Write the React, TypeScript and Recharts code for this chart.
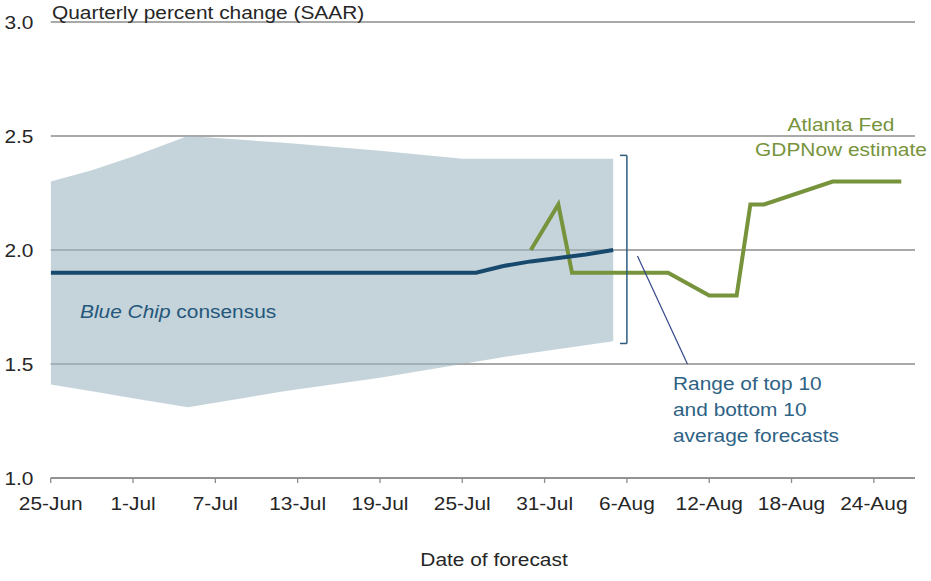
import React from 'react';
import {
  ComposedChart,
  Area,
  Line,
  XAxis,
  YAxis,
  CartesianGrid,
  ReferenceLine,
} from 'recharts';

// x values are days counted from 25-Jun
const tickDays = [0, 6, 12, 18, 24, 30, 36, 42, 48, 54, 60];
const tickLabels = ['25-Jun', '1-Jul', '7-Jul', '13-Jul', '19-Jul', '25-Jul', '31-Jul', '6-Aug', '12-Aug', '18-Aug', '24-Aug'];
const yTicks = [1.0, 1.5, 2.0, 2.5, 3.0];

// range of top 10 / bottom 10 average forecasts
const bandDays = [0, 3, 6, 10, 17, 24, 30, 34, 41];
const bandHigh = [2.3, 2.35, 2.41, 2.5, 2.47, 2.435, 2.4, 2.4, 2.4];
const bandLow = [1.41, 1.38, 1.35, 1.31, 1.38, 1.44, 1.5, 1.54, 1.6];

// Blue Chip consensus
const blueChipDays = [0, 31, 33, 35, 37, 39, 41];
const blueChipValues = [1.9, 1.9, 1.93, 1.95, 1.965, 1.98, 2.0];

// Atlanta Fed GDPNow
const gdpNowDays = [35, 37, 38, 45, 48, 50, 51, 52, 57, 62];
const gdpNowValues = [2.0, 2.2, 1.9, 1.9, 1.8, 1.8, 2.2, 2.2, 2.3, 2.3];

const bandData = bandDays.map((day, i) => ({ day, range: [bandLow[i], bandHigh[i]] }));
const blueChipData = blueChipDays.map((day, i) => ({ day, value: blueChipValues[i] }));
const gdpNowData = gdpNowDays.map((day, i) => ({ day, value: gdpNowValues[i] }));

const FONT = '"Liberation Sans", Arial, sans-serif';
const FS = 18.5;
const SX = 1.13; // source image is a little wide
const GRID = '#8c8c8c';
const TEXT = '#262626';

const XTick = (props: any) => {
  const { x, payload } = props;
  const label = tickLabels[tickDays.indexOf(payload.value)];
  return (
    <text
      transform={`translate(${x},510) scale(${SX},1)`}
      textAnchor="middle"
      fontSize={FS}
      fontFamily={FONT}
      fill={TEXT}
    >
      {label}
    </text>
  );
};

const YTick = (props: any) => {
  const { y, payload } = props;
  return (
    <text
      transform={`translate(33.5,${y + 7}) scale(${SX},1)`}
      textAnchor="end"
      fontSize={FS}
      fontFamily={FONT}
      fill={TEXT}
    >
      {Number(payload.value).toFixed(1)}
    </text>
  );
};

const Txt = ({ x, y, fill = TEXT, anchor = 'start', children }: any) => (
  <text
    transform={`translate(${x},${y}) scale(${SX},1)`}
    textAnchor={anchor}
    fontSize={FS}
    fontFamily={FONT}
    fill={fill}
  >
    {children}
  </text>
);

export default function App() {
  return (
    <div style={{ position: 'absolute', left: 0, top: 0, width: 931, height: 581, background: '#fff' }}>
      <ComposedChart
        width={931}
        height={581}
        margin={{ top: 22, right: 16, bottom: 73, left: 0 }}
      >
        <CartesianGrid horizontal vertical={false} stroke={GRID} strokeWidth={1.3} />
        <XAxis
          type="number"
          dataKey="day"
          domain={[0, 63]}
          ticks={tickDays}
          interval={0}
          height={30}
          axisLine={{ stroke: GRID, strokeWidth: 1.3 }}
          tickLine={{ stroke: GRID, strokeWidth: 1.3 }}
          tickSize={5}
          tick={<XTick />}
          allowDataOverflow
        />
        <YAxis
          type="number"
          domain={[1, 3]}
          ticks={yTicks}
          interval={0}
          width={50.7}
          axisLine={false}
          tickLine={false}
          tick={<YTick />}
        />
        <Area
          data={bandData}
          dataKey="range"
          type="linear"
          stroke="none"
          fill="#9fb6c3"
          fillOpacity={0.6}
          isAnimationActive={false}
        />
        <Line
          data={gdpNowData}
          dataKey="value"
          type="linear"
          stroke="#77933c"
          strokeWidth={4}
          dot={false}
          isAnimationActive={false}
        />
        <Line
          data={blueChipData}
          dataKey="value"
          type="linear"
          stroke="#17496d"
          strokeWidth={4}
          dot={false}
          isAnimationActive={false}
        />
        {/* bracket around the range at the last Blue Chip date */}
        <ReferenceLine segment={[{ x: 42, y: 2.415 }, { x: 42, y: 1.59 }]} stroke="#2d5b7d" strokeWidth={1.5} />
        <ReferenceLine segment={[{ x: 41.5, y: 2.415 }, { x: 42, y: 2.415 }]} stroke="#2d5b7d" strokeWidth={1.5} />
        <ReferenceLine segment={[{ x: 41.5, y: 1.59 }, { x: 42, y: 1.59 }]} stroke="#2d5b7d" strokeWidth={1.5} />
        {/* leader line to the range note */}
        <ReferenceLine segment={[{ x: 42.77, y: 1.974 }, { x: 46.41, y: 1.5 }]} stroke="#34478a" strokeWidth={1.2} />
      </ComposedChart>
      <svg
        width={931}
        height={581}
        style={{ position: 'absolute', left: 0, top: 0, pointerEvents: 'none' }}
      >
        <Txt x={52} y={18.5}>Quarterly percent change (SAAR)</Txt>
        <Txt x={494} y={566} anchor="middle">Date of forecast</Txt>
        <Txt x={80} y={318} fill="#24577a">
          <tspan fontStyle="italic">Blue Chip</tspan> consensus
        </Txt>
        <Txt x={673} y={390} fill="#2e6285">Range of top 10</Txt>
        <Txt x={673} y={416} fill="#2e6285">and bottom 10</Txt>
        <Txt x={673} y={442} fill="#2e6285">average forecasts</Txt>
        <Txt x={841} y={131} fill="#77933c" anchor="middle">Atlanta Fed</Txt>
        <Txt x={841} y={156} fill="#77933c" anchor="middle">GDPNow estimate</Txt>
      </svg>
    </div>
  );
}
